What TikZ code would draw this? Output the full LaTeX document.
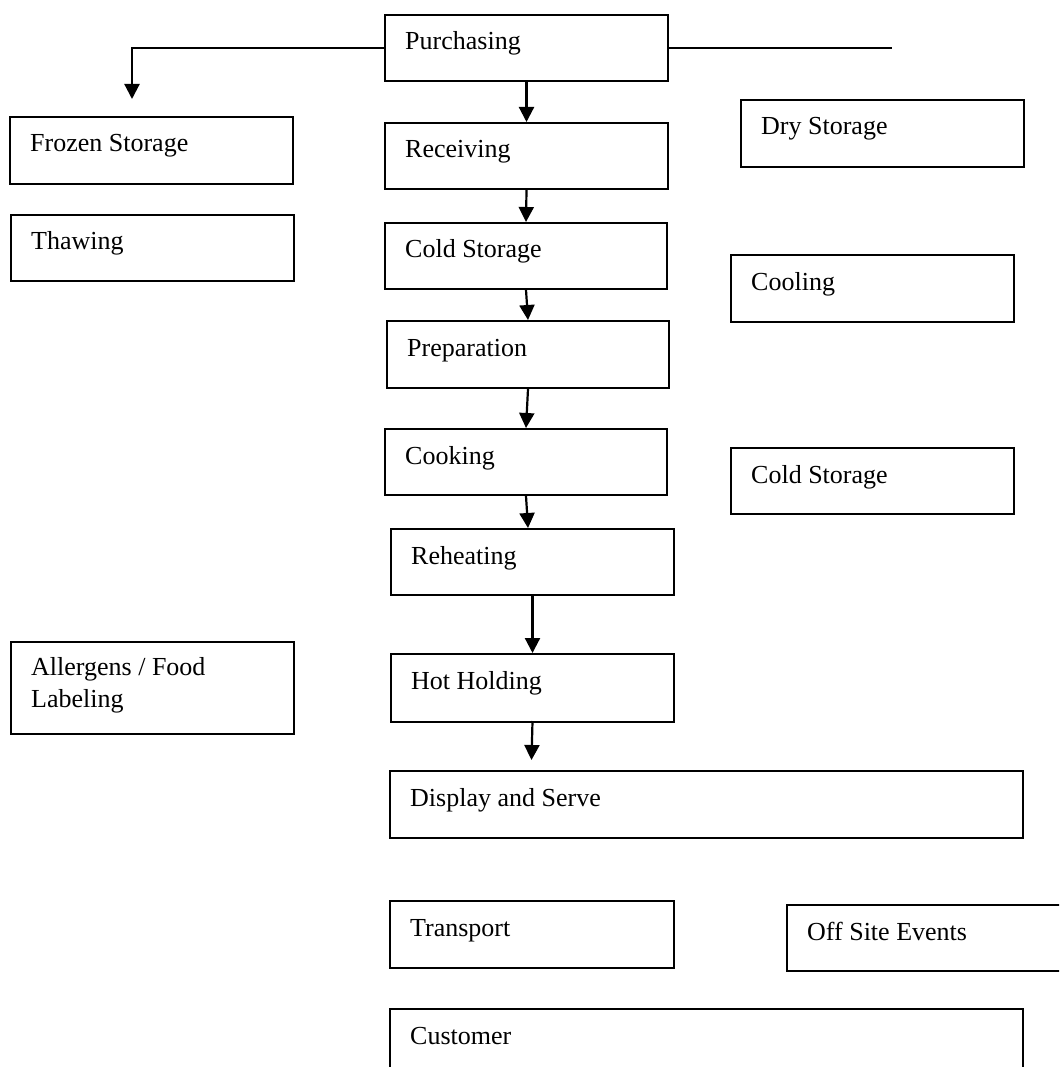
\documentclass[tikz,border=0pt]{standalone}
\usepackage{fontspec}
\setmainfont{Liberation Serif}
\usetikzlibrary{arrows.meta,calc}
\begin{document}
\begin{tikzpicture}[x=1pt,y=-1pt,
  boxstyle/.style={draw=black,line width=2pt,anchor=north west,inner sep=0pt},
  lbl/.style={anchor=base west,inner sep=0pt,font=\fontsize{26}{32}\selectfont},
  flow/.style={line width=2.2pt,-{Triangle[width=15pt,length=15pt]}},
  plain/.style={line width=2.2pt}]
\useasboundingbox (0,0) rectangle (1059,1067);
\clip (0,0) rectangle (1059,1067);
\fill[white] (0,0) rectangle (1059,1067);
% boxes: name, left, top, width, height, text
\newcommand{\mybox}[6]{%
  \node[boxstyle,minimum width=#4pt,minimum height=#5pt] (#1) at (#2,#3) {};
  \node[lbl] (#1t) at ($(#1.north west)+(21,36)$) {#6};
}
\mybox{purch}{384}{14}{283}{66}{Purchasing}
\mybox{recv}{384}{122}{283}{66}{Receiving}
\mybox{frozen}{9}{116}{283}{67}{Frozen Storage}
\mybox{dry}{740}{99}{283}{67}{Dry Storage}
\mybox{cold}{384}{222}{282}{66}{Cold Storage}
\mybox{thaw}{10}{214}{283}{66}{Thawing}
\mybox{cooling}{730}{254}{283}{67}{Cooling}
\mybox{prep}{386}{320}{282}{67}{Preparation}
\mybox{cooking}{384}{428}{282}{66}{Cooking}
\mybox{coldb}{730}{447}{283}{66}{Cold Storage}
\mybox{reheat}{390}{528}{283}{66}{Reheating}
\mybox{hot}{390}{653}{283}{68}{Hot Holding}
\node[boxstyle,minimum width=283pt,minimum height=92pt] (allerg) at (10,641) {};
\node[lbl] (allergt) at ($(allerg.north west)+(21,34)$) {\vtop{\hbox{Allergens / Food}\hbox{Labeling}}};
\mybox{display}{389}{770}{633}{67}{Display and Serve}
\mybox{transport}{389}{900}{284}{67}{Transport}
\mybox{offsite}{786}{904}{290}{66}{Off Site Events}
\mybox{customer}{389}{1008}{633}{80}{Customer}
% connectors
\coordinate (frozenend) at (132,99);
\coordinate (rightend) at (892,47);
\coordinate (hotend) at (531.5,760);
\draw[flow] (purch.west) -| (frozenend);
\draw[plain] (purch.east) -- (purch.east -| rightend);
\draw[flow] (purch.south) -- (recv.north);
\draw[flow] (recv.south) -- (cold.north);
\draw[flow] (cold.south) -- (prep.north);
\draw[flow] (prep.south) -- (cooking.north);
\draw[flow] (cooking.south) -- ([xshift=-4.5pt]reheat.north);
\draw[flow] (reheat.south) -- (hot.north);
\draw[flow] ([yshift=2pt]hot.south) -- (hotend);
\end{tikzpicture}
\end{document}
